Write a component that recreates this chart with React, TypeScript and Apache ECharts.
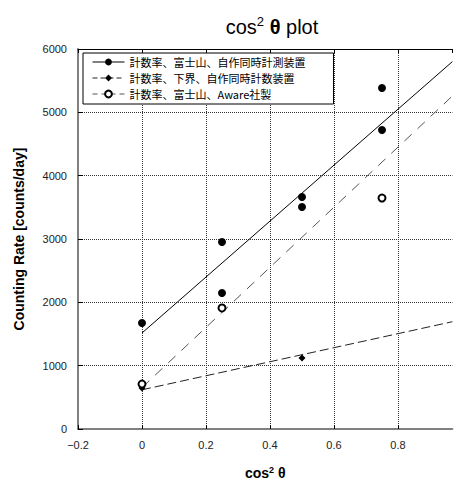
import React, { useEffect, useRef } from 'react';
import * as echarts from 'echarts';

// ---- data ----
const seriesNames = [
  '計数率、富士山、自作同時計測装置',
  '計数率、下界、自作同時計数装置',
  '計数率、富士山、Aware社製',
];

const fujiHomeX = [0, 0.25, 0.25, 0.5, 0.5, 0.75, 0.75];
const fujiHomeY = [1674, 2953, 2147, 3663, 3505, 5384, 4721];

const groundHomeX = [0, 0.5];
const groundHomeY = [647, 1121];

const fujiAwareX = [0, 0.25, 0.75];
const fujiAwareY = [710, 1911, 3647];

// fitted lines (end points)
const fitFujiHomeX = [0, 0.97];
const fitFujiHomeY = [1516, 5801];
const fitGroundHomeX = [0, 0.97];
const fitGroundHomeY = [619, 1694];
const fitFujiAwareX = [0, 0.97];
const fitFujiAwareY = [655, 5258];

const xMin = -0.2;
const xMax = 0.97;
const xInterval = 0.2;
const yMin = 0;
const yMax = 6000;
const yInterval = 1000;

const zip = (xs: number[], ys: number[]) => xs.map((x, i) => [x, ys[i]]);

const latin = 'Liberation Sans, Arial, sans-serif';
const cjk = '"Noto Sans CJK JP", "Liberation Sans", sans-serif';

export default function App() {
  const ref = useRef<HTMLDivElement>(null);

  useEffect(() => {
    if (!ref.current) return;
    const chart = echarts.init(ref.current, null, { renderer: 'svg' });

    const option: any = {
      animation: false,
      backgroundColor: '#fff',
      title: {
        text: '{a|cos}{s|2}{b| θ}{a| plot}',
        left: 267,
        top: 10,
        textAlign: 'center',
        textStyle: {
          fontWeight: 'normal',
          fontSize: 20,
          fontFamily: latin,
          color: '#000',
          rich: {
            a: { fontSize: 20, fontWeight: 'normal', fontFamily: latin, color: '#000', lineHeight: 24 },
            b: { fontSize: 20, fontWeight: 'bold', fontFamily: latin, color: '#000', lineHeight: 24 },
            s: { fontSize: 13, fontWeight: 'normal', fontFamily: latin, color: '#000', lineHeight: 14, verticalAlign: 'top' },
          },
        },
      },
      grid: { left: 78, top: 49, right: 2.6, bottom: 57, containLabel: false },
      legend: {
        orient: 'vertical',
        left: 83,
        top: 53,
        padding: [1, 28, 2, 9],
        itemGap: 0,
        itemWidth: 32,
        itemHeight: 8.5,
        borderColor: '#000',
        borderWidth: 1,
        backgroundColor: '#fff',
        borderRadius: 0,
        z: 10,
        textStyle: { fontSize: 11, fontFamily: cjk, color: '#000', lineHeight: 16 },
        data: [
          { name: seriesNames[0], lineStyle: { color: '#000', width: 1, type: 'solid', opacity: 1 } },
          { name: seriesNames[1], lineStyle: { color: '#222', width: 1, type: [5, 3], opacity: 1 } },
          { name: seriesNames[2], lineStyle: { color: '#555', width: 1, type: [5, 4], opacity: 1 } },
        ],
      },
      xAxis: [
        {
          type: 'value',
          position: 'bottom',
          min: xMin,
          max: xMax,
          interval: xInterval,
          name: '{a|cos}{s|2}{a| θ}',
          nameLocation: 'middle',
          nameGap: 36,
          nameTextStyle: {
            rich: {
              a: { fontSize: 14, fontWeight: 'bold', fontFamily: latin, color: '#000', lineHeight: 16 },
              s: { fontSize: 9, fontWeight: 'bold', fontFamily: latin, color: '#000', lineHeight: 10, verticalAlign: 'top' },
            },
          },
          axisLine: { show: true, onZero: false, lineStyle: { color: '#808080', width: 2 } },
          axisTick: { show: true, inside: true, length: 4, lineStyle: { color: '#000' } },
          axisLabel: {
            fontSize: 11,
            fontFamily: latin,
            color: '#222',
            margin: 10,
            showMaxLabel: false,
            formatter: (v: number) => String(Math.round(v * 10) / 10).replace('-', '−'),
          },
          splitLine: {
            show: true,
            showMinLine: false,
            showMaxLine: false,
            lineStyle: { color: '#333', width: 1, type: [1, 1] },
          },
        },
        {
          type: 'value',
          position: 'top',
          min: xMin,
          max: xMax,
          interval: xInterval,
          axisLine: { show: true, onZero: false, lineStyle: { color: '#000', width: 1 } },
          axisTick: { show: true, inside: true, length: 4, lineStyle: { color: '#000' } },
          axisLabel: { show: false },
          splitLine: { show: false },
        },
      ],
      yAxis: {
        type: 'value',
        min: yMin,
        max: yMax,
        interval: yInterval,
        name: 'Counting Rate [counts/day]',
        nameLocation: 'middle',
        nameGap: 52,
        nameTextStyle: { fontSize: 14, fontWeight: 'bold', fontFamily: latin, color: '#000' },
        axisLine: { show: true, onZero: false, lineStyle: { color: '#808080', width: 2 } },
        axisTick: { show: true, inside: true, length: 5, lineStyle: { color: '#000' } },
        axisLabel: {
          fontSize: 11,
          fontFamily: latin,
          color: '#222',
          margin: 11,
          formatter: (v: number) => String(v),
        },
        splitLine: {
          show: true,
          showMinLine: false,
          showMaxLine: false,
          lineStyle: { color: '#333', width: 1, type: [1, 1] },
        },
      },
      series: [
        {
          name: 'fit1',
          type: 'line',
          data: zip(fitFujiHomeX, fitFujiHomeY),
          symbol: 'none',
          silent: true,
          lineStyle: { color: '#000', width: 1, type: 'solid' },
          z: 3,
        },
        {
          name: 'fit2',
          type: 'line',
          data: zip(fitGroundHomeX, fitGroundHomeY),
          symbol: 'none',
          silent: true,
          lineStyle: { color: '#222', width: 1, type: [9, 4] },
          z: 3,
        },
        {
          name: 'fit3',
          type: 'line',
          data: zip(fitFujiAwareX, fitFujiAwareY),
          symbol: 'none',
          silent: true,
          lineStyle: { color: '#555', width: 1, type: [10, 8] },
          z: 3,
        },
        {
          name: seriesNames[0],
          type: 'line',
          data: zip(fujiHomeX, fujiHomeY),
          symbol: 'circle',
          symbolSize: 8,
          itemStyle: { color: '#000' },
          lineStyle: { width: 0, opacity: 0 },
          z: 5,
        },
        {
          name: seriesNames[1],
          type: 'line',
          data: zip(groundHomeX, groundHomeY),
          symbol: 'diamond',
          symbolSize: 7,
          itemStyle: { color: '#000' },
          lineStyle: { width: 0, opacity: 0 },
          z: 5,
        },
        {
          name: seriesNames[2],
          type: 'line',
          data: zip(fujiAwareX, fujiAwareY),
          symbol: 'emptyCircle',
          symbolSize: 7,
          itemStyle: { color: '#000', borderWidth: 1.3 },
          lineStyle: { width: 0, opacity: 0 },
          z: 6,
        },
      ],
    };

    chart.setOption(option);
    return () => chart.dispose();
  }, []);

  return (
    <div
      ref={ref}
      style={{ position: 'fixed', left: 0, top: 0, width: 455, height: 486 }}
    />
  );
}
